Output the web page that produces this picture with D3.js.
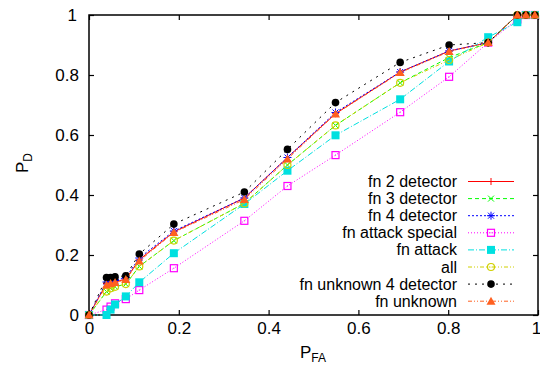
<!DOCTYPE html>
<html>
<head>
<meta charset="utf-8">
<script src="https://cdn.jsdelivr.net/npm/d3@7"></script>
<style>
  body { margin: 0; background: #fff; }
  text { font-family: "Liberation Sans", Arial, sans-serif; }
</style>
</head>
<body>
<div id="chart"></div>
<script>
// false alarm rate, shared by every curve
var pfa = [0, 0.039, 0.048, 0.058, 0.082, 0.112, 0.189, 0.346, 0.442, 0.549, 0.693, 0.802, 0.889, 0.954, 0.973, 0.993];

var fn2Detector     = [0, 0.105, 0.108, 0.110, 0.120, 0.184, 0.277, 0.390, 0.525, 0.671, 0.810, 0.880, 0.908, 1, 1, 1];
var fn3Detector     = [0, 0.078, 0.089, 0.094, 0.103, 0.162, 0.248, 0.372, 0.500, 0.632, 0.774, 0.858, 0.908, 1, 1, 1];
var fn4Detector     = [0, 0.110, 0.112, 0.115, 0.125, 0.190, 0.280, 0.390, 0.525, 0.675, 0.810, 0.880, 0.908, 1, 1, 1];
var fnAttackSpecial = [0, 0.018, 0.028, 0.039, 0.053, 0.083, 0.156, 0.314, 0.430, 0.533, 0.676, 0.794, 0.908, 0.985, 1, 1];
var fnAttack        = [0, 0, 0.018, 0.035, 0.062, 0.109, 0.206, 0.370, 0.481, 0.599, 0.719, 0.845, 0.926, 0.976, 1, 1];
var allDet          = [0, 0.078, 0.089, 0.094, 0.103, 0.162, 0.248, 0.372, 0.500, 0.632, 0.774, 0.850, 0.908, 1, 1, 1];
var fnUnknown4      = [0, 0.125, 0.125, 0.127, 0.131, 0.203, 0.303, 0.410, 0.552, 0.708, 0.842, 0.900, 0.908, 1, 1, 1];
var fnUnknown       = [0, 0.100, 0.105, 0.108, 0.118, 0.180, 0.275, 0.385, 0.520, 0.670, 0.808, 0.878, 0.908, 1, 1, 1];

var seriesNames = ["fn 2 detector", "fn 3 detector", "fn 4 detector", "fn attack special",
                   "fn attack", "all", "fn unknown 4 detector", "fn unknown"];
var tickValues = [0, 0.2, 0.4, 0.6, 0.8, 1];

var series = [
    {name: seriesNames[0], pd: fn2Detector,     color: "#ff0000", dash: null,            mark: "plus"},
    {name: seriesNames[1], pd: fn3Detector,     color: "#00ff00", dash: "4,3",           mark: "cross"},
    {name: seriesNames[2], pd: fn4Detector,     color: "#0000ff", dash: "2,2",           mark: "star"},
    {name: seriesNames[3], pd: fnAttackSpecial, color: "#ff00ff", dash: "1,2",           mark: "square"},
    {name: seriesNames[4], pd: fnAttack,        color: "#00e0e0", dash: "6,2,1,2",       mark: "fsquare"},
    {name: seriesNames[5], pd: allDet,          color: "#d0d000", dash: "4,2,1,2,1,2",   mark: "circle"},
    {name: seriesNames[6], pd: fnUnknown4,      color: "#000000", dash: "2,5",           mark: "fcircle"},
    {name: seriesNames[7], pd: fnUnknown,       color: "#ff6020", dash: "4,2,1,2,1,2",   mark: "triangle"}
];

var width = 540, height = 367;
var margin = {top: 15, right: 2, bottom: 52, left: 89};
var iw = width - margin.left - margin.right,
    ih = height - margin.top - margin.bottom;

var svg = d3.select("#chart").append("svg")
    .attr("width", width)
    .attr("height", height);

var g = svg.append("g")
    .attr("transform", "translate(" + margin.left + "," + margin.top + ")");

var x = d3.scaleLinear().domain([0, 1]).range([0, iw]);
var y = d3.scaleLinear().domain([0, 1]).range([ih, 0]);

// inward ticks on all four sides, like gnuplot
var tl = 5;
g.append("g").attr("transform", "translate(0," + ih + ")")
    .call(d3.axisBottom(x).tickValues(tickValues).tickSize(-tl).tickPadding(7).tickFormat(d3.format("")));
g.append("g")
    .call(d3.axisTop(x).tickValues(tickValues).tickSize(-tl).tickFormat(""));
g.append("g")
    .call(d3.axisLeft(y).tickValues(tickValues).tickSize(-tl).tickPadding(10).tickFormat(d3.format("")));
g.append("g").attr("transform", "translate(" + iw + ",0)")
    .call(d3.axisRight(y).tickValues(tickValues).tickSize(-tl).tickFormat(""));

g.selectAll(".domain").remove();
g.selectAll(".tick line").attr("stroke", "#000").attr("stroke-width", 1.2);
g.selectAll(".tick text").attr("font-size", 17).attr("fill", "#000")
    .style("font-family", "'Liberation Sans', Arial, sans-serif");
// keep the last x label inside the window
g.selectAll(".tick text").filter(function(d) { return d === 1; }).attr("dx", -2);

g.append("rect").attr("width", iw).attr("height", ih)
    .attr("fill", "none").attr("stroke", "#000").attr("stroke-width", 1.5);

function drawMark(sel, type, color) {
    var s = 3.5;
    if (type === "plus") {
        sel.append("path").attr("d", "M" + -s + ",0H" + s + "M0," + -s + "V" + s)
            .attr("stroke", color).attr("fill", "none");
    } else if (type === "cross") {
        sel.append("path").attr("d", "M-3,-3L3,3M-3,3L3,-3")
            .attr("stroke", color).attr("fill", "none");
    } else if (type === "star") {
        sel.append("path").attr("d", "M-3,-3L3,3M-3,3L3,-3M-4,0H4M0,-4V4")
            .attr("stroke", color).attr("fill", "none");
    } else if (type === "square") {
        sel.append("rect").attr("x", -3.5).attr("y", -3.5).attr("width", 7).attr("height", 7)
            .attr("fill", "none").attr("stroke", color).attr("stroke-width", 1.2);
        sel.append("rect").attr("x", -0.5).attr("y", -0.5).attr("width", 1).attr("height", 1)
            .attr("fill", color);
    } else if (type === "fsquare") {
        sel.append("rect").attr("x", -4).attr("y", -4).attr("width", 8).attr("height", 8)
            .attr("fill", color);
    } else if (type === "circle") {
        sel.append("circle").attr("r", 3.5).attr("fill", "none")
            .attr("stroke", color).attr("stroke-width", 1.2);
        sel.append("circle").attr("r", 0.6).attr("fill", color);
    } else if (type === "fcircle") {
        sel.append("circle").attr("r", 3.8).attr("fill", color);
    } else if (type === "triangle") {
        sel.append("path").attr("d", "M0,-4.5L4.5,3.5H-4.5Z").attr("fill", color);
    }
}

var line = d3.line()
    .x(function(d) { return x(d[0]); })
    .y(function(d) { return y(d[1]); });

series.forEach(function(s) {
    var pts = pfa.map(function(v, i) { return [v, s.pd[i]]; });
    g.append("path")
        .datum(pts)
        .attr("d", line)
        .attr("fill", "none")
        .attr("stroke", s.color)
        .attr("stroke-width", 1)
        .attr("stroke-dasharray", s.dash);
    g.append("g").selectAll("g")
        .data(pts)
        .enter()
        .append("g")
        .attr("transform", function(d) { return "translate(" + x(d[0]) + "," + y(d[1]) + ")"; })
        .each(function() { drawMark(d3.select(this), s.mark, s.color); });
});

// legend
var legend = svg.append("g").attr("transform", "translate(0,181.5)");
series.forEach(function(s, i) {
    var row = legend.append("g").attr("transform", "translate(0," + (i * 17.1) + ")");
    row.append("text")
        .attr("x", 457).attr("y", 5.5)
        .attr("text-anchor", "end")
        .attr("font-size", 16)
        .text(s.name);
    row.append("line")
        .attr("x1", 468).attr("x2", 514)
        .attr("stroke", s.color)
        .attr("stroke-dasharray", s.dash);
    var m = row.append("g").attr("transform", "translate(491,0)");
    drawMark(m, s.mark, s.color);
});

// axis titles
var xt = svg.append("text")
    .attr("x", 313).attr("y", 358)
    .attr("text-anchor", "middle")
    .attr("font-size", 17);
xt.append("tspan").text("P");
xt.append("tspan").attr("font-size", 12).attr("dy", 4).text("FA");

var yt = svg.append("text")
    .attr("transform", "translate(28,163) rotate(-90)")
    .attr("text-anchor", "middle")
    .attr("font-size", 17);
yt.append("tspan").text("P");
yt.append("tspan").attr("font-size", 12).attr("dy", 4).text("D");
</script>
</body>
</html>
